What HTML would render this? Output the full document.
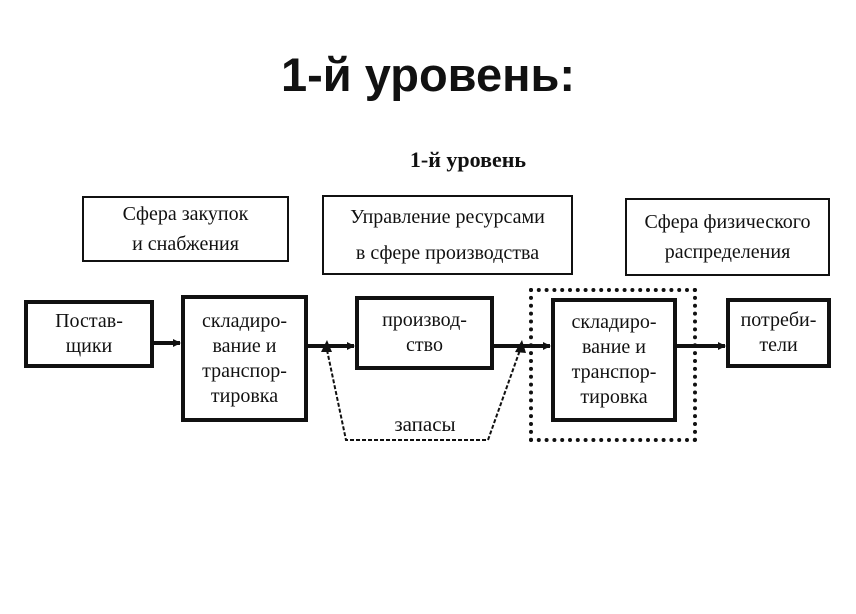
<!DOCTYPE html>
<html><head><meta charset="utf-8"><style>
body{margin:0;width:856px;height:614px;background:#fff;position:relative;overflow:hidden;font-family:"Liberation Serif","DejaVu Serif",serif;}
.a{position:absolute;box-sizing:border-box;display:flex;align-items:center;justify-content:center;text-align:center;color:#111;}
.t{border:2px solid #111;font-size:20px;line-height:30px;}
.k{border:4px solid #111;font-size:20px;line-height:25px;}
</style></head><body>
<div class="a" style="left:200px;top:48px;width:456px;height:52px;font-family:'Liberation Sans',sans-serif;font-weight:bold;font-size:47px;">1-й уровень:</div>
<div class="a" style="left:368px;top:146px;width:200px;height:28px;font-weight:bold;font-size:22px;">1-й уровень</div>
<div class="a t" style="left:82px;top:196px;width:207px;height:66px;">Сфера закупок<br>и снабжения</div>
<div class="a t" style="left:322px;top:195px;width:251px;height:80px;line-height:36px;">Управление ресурсами<br>в сфере производства</div>
<div class="a t" style="left:625px;top:198px;width:205px;height:78px;">Сфера физического<br>распределения</div>
<div class="a k" style="left:24px;top:300px;width:130px;height:68px;">Постав-<br>щики</div>
<div class="a k" style="left:181px;top:295px;width:127px;height:127px;">складиро-<br>вание и<br>транспор-<br>тировка</div>
<div class="a k" style="left:355px;top:296px;width:139px;height:74px;">производ-<br>ство</div>
<div class="a" style="left:529px;top:288px;width:168px;height:154px;border:4px dotted #111;"></div>
<div class="a k" style="left:551px;top:298px;width:126px;height:124px;">складиро-<br>вание и<br>транспор-<br>тировка</div>
<div class="a k" style="left:726px;top:298px;width:105px;height:70px;">потреби-<br>тели</div>
<div class="a" style="left:375px;top:410px;width:100px;height:28px;font-size:21px;">запасы</div>
<svg width="856" height="614" style="position:absolute;left:0;top:0">
<defs><marker id="m" markerWidth="8" markerHeight="8" refX="7" refY="4" orient="auto" markerUnits="userSpaceOnUse"><path d="M0,0 L8,4 L0,8 z" fill="#111"/></marker></defs>
<g stroke="#111" stroke-width="4" fill="none">
<line x1="154" y1="343" x2="180" y2="343" marker-end="url(#m)"/>
<line x1="308" y1="346" x2="354" y2="346" marker-end="url(#m)"/>
<line x1="494" y1="346" x2="550" y2="346" marker-end="url(#m)"/>
<line x1="677" y1="346" x2="725" y2="346" marker-end="url(#m)"/>
</g>
<g stroke="#111" stroke-width="2" fill="none" stroke-dasharray="4,2">
<polyline points="327,350 346,440 488,440 520,350" />
</g>
<path d="M321,352 L327,340 L332,352 z" fill="#111"/>
<path d="M515,352 L522,340 L526,353 z" fill="#111"/>
</svg>
</body></html>
